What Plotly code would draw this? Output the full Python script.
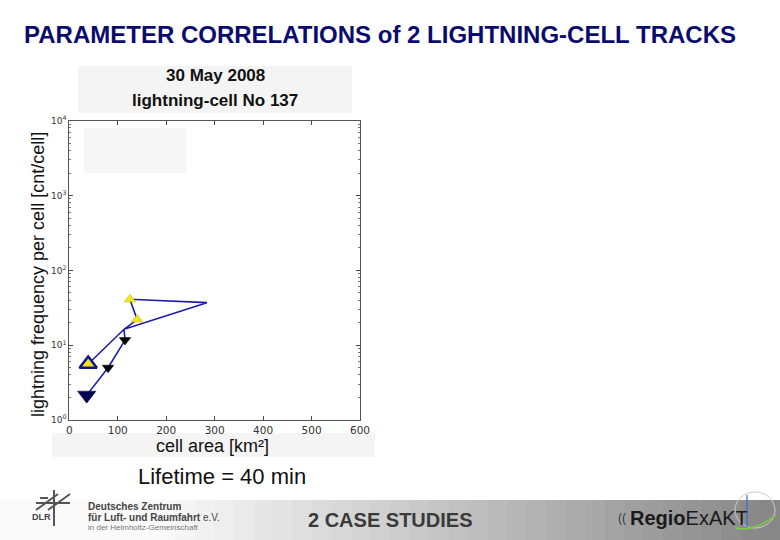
import plotly.graph_objects as go

# ---- data ----
cell_area_km2 = [39, 113, 140, 125, 284, 113, 115, 80, 36]
lightning_freq = [5.6, 16.3, 22.0, 41.0, 37.0, 16.3, 11.7, 5.0, 2.15]
marker_symbols = ["triangle-up", "circle", "triangle-up", "triangle-up", "circle",
                  "circle", "triangle-down", "triangle-down", "triangle-down"]
marker_sizes = [15, 0, 10, 10, 0, 0, 10, 10, 16]
marker_colors = ["#f2e31c", "#1c1ca8", "#f2e31c", "#f2e31c", "#1c1ca8",
                 "#1c1ca8", "#000000", "#000000", "#000050"]
marker_edge_colors = ["#12128c", "#1c1ca8", "#c8b800", "#c8b800", "#1c1ca8",
                      "#1c1ca8", "#000000", "#000000", "#000050"]
marker_edge_widths = [2.5, 0, 0.5, 0.5, 0, 0, 0.5, 0.5, 0.5]

x_tick_vals = [0, 100, 200, 300, 400, 500, 600]
y_tick_vals = [1, 10, 100, 1000, 10000]
y_tick_text = ["10<sup>0</sup>", "10<sup>1</sup>", "10<sup>2</sup>", "10<sup>3</sup>", "10<sup>4</sup>"]

W, H = 780, 540
def px(x):
    return x / W
def py(y):
    return 1 - y / H

fig = go.Figure()
fig.add_trace(go.Scatter(
    x=cell_area_km2, y=lightning_freq, mode="lines+markers",
    line=dict(color="#1c1ca8", width=1.6),
    marker=dict(symbol=marker_symbols, size=marker_sizes, color=marker_colors, opacity=1,
                line=dict(color=marker_edge_colors, width=marker_edge_widths)),
    showlegend=False, hoverinfo="skip", cliponaxis=False,
))

shapes = []
# footer gradient band
n = 40
for i in range(n):
    x0 = i * W / n
    x1 = min(W, (i + 1) * W / n + 1.5)
    t = i / (n - 1)
    t2 = max(0.0, (t - 0.2) / 0.8)
    v = int(250 - 115 * t2)
    shapes.append(dict(type="rect", xref="paper", yref="paper",
                       x0=px(x0), x1=px(x1), y0=py(540), y1=py(500),
                       fillcolor=f"rgb({v},{v},{v})", line=dict(width=0), layer="below"))
# subtitle box
shapes.append(dict(type="rect", xref="paper", yref="paper", x0=px(78), x1=px(352),
                   y0=py(113), y1=py(66), fillcolor="#f4f4f4", line=dict(width=0), layer="below"))
# x title box
shapes.append(dict(type="rect", xref="paper", yref="paper", x0=px(52), x1=px(375),
                   y0=py(457), y1=py(433), fillcolor="#f4f4f4", line=dict(width=0), layer="below"))
# legend placeholder
shapes.append(dict(type="rect", xref="paper", yref="paper", x0=px(84), x1=px(186),
                   y0=py(173), y1=py(128), fillcolor="#f6f6f6", line=dict(width=0), layer="above"))
# DLR emblem (simple)
for (xa, ya, xb, yb) in [(36, 510, 58, 494), (48, 510, 70, 494), (36, 503, 70, 503),
                         (54, 490, 54, 526), (40, 498, 48, 498)]:
    shapes.append(dict(type="line", xref="paper", yref="paper",
                       x0=px(xa), y0=py(ya), x1=px(xb), y1=py(yb),
                       line=dict(color="#555555", width=2)))
# Regio logo globe
shapes.append(dict(type="circle", xref="paper", yref="paper", x0=px(735), x1=px(775),
                   y0=py(528), y1=py(492), line=dict(color="#cccccc", width=1)))
shapes.append(dict(type="line", xref="paper", yref="paper", x0=px(747), x1=px(747),
                   y0=py(527), y1=py(495), line=dict(color="#3a6fd0", width=1.2)))
shapes.append(dict(type="path", xref="paper", yref="paper",
                   path=f"M {px(735)},{py(528)} Q {px(755)},{py(532)} {px(776)},{py(515)}",
                   line=dict(color="#7ccf3a", width=1.5)))

annotations = [
    dict(text="<b>PARAMETER CORRELATIONS of 2 LIGHTNING-CELL TRACKS</b>", x=px(380), y=py(35),
         xref="paper", yref="paper", showarrow=False, xanchor="center", yanchor="middle",
         font=dict(family="Liberation Sans Narrow, Liberation Sans, Arial", size=24, color="#0b0b6e")),
    dict(text="<b>30 May 2008</b>", x=px(215), y=py(76), xref="paper", yref="paper", showarrow=False,
         xanchor="center", yanchor="middle",
         font=dict(family="Liberation Sans, Arial", size=17, color="#111111")),
    dict(text="<b>lightning-cell No 137</b>", x=px(215), y=py(101), xref="paper", yref="paper",
         showarrow=False, xanchor="center", yanchor="middle",
         font=dict(family="Liberation Sans, Arial", size=17, color="#111111")),
    dict(text="lightning frequency per cell [cnt/cell]", x=px(38), y=py(275), xref="paper",
         yref="paper", showarrow=False, textangle=-90, xanchor="center", yanchor="middle",
         font=dict(family="Liberation Sans, Arial", size=18, color="#111111")),
    dict(text="cell area [km²]", x=px(213), y=py(446), xref="paper", yref="paper", showarrow=False,
         xanchor="center", yanchor="middle",
         font=dict(family="Liberation Sans, Arial", size=18, color="#111111")),
    dict(text="Lifetime = 40 min", x=px(222), y=py(476), xref="paper", yref="paper", showarrow=False,
         xanchor="center", yanchor="middle",
         font=dict(family="Liberation Sans, Arial", size=22, color="#111111")),
    dict(text="<b>2 CASE STUDIES</b>", x=px(390), y=py(520), xref="paper", yref="paper",
         showarrow=False, xanchor="center", yanchor="middle",
         font=dict(family="Liberation Sans Narrow, Liberation Sans, Arial", size=20, color="#3a3a3a")),
    dict(text="<b>DLR</b>", x=px(30), y=py(517), xref="paper", yref="paper", showarrow=False,
         xanchor="left", yanchor="middle",
         font=dict(family="Liberation Sans, Arial", size=9, color="#444444")),
    dict(text="<b>Deutsches Zentrum</b>", x=px(86), y=py(506), xref="paper", yref="paper",
         showarrow=False, xanchor="left", yanchor="middle",
         font=dict(family="Liberation Sans Narrow, Liberation Sans, Arial", size=10, color="#444444")),
    dict(text="<b>für Luft- und Raumfahrt</b> e.V.", x=px(86), y=py(517), xref="paper", yref="paper",
         showarrow=False, xanchor="left", yanchor="middle",
         font=dict(family="Liberation Sans Narrow, Liberation Sans, Arial", size=10, color="#444444")),
    dict(text="in der Helmholtz-Gemeinschaft", x=px(86), y=py(527), xref="paper", yref="paper",
         showarrow=False, xanchor="left", yanchor="middle",
         font=dict(family="Liberation Sans Narrow, Liberation Sans, Arial", size=8, color="#777777")),
    dict(text="<b>Regio</b>ExAKT", x=px(628), y=py(518), xref="paper", yref="paper",
         showarrow=False, xanchor="left", yanchor="middle",
         font=dict(family="Liberation Sans Narrow, Liberation Sans, Arial", size=20, color="#1a1a1a")),
    dict(text="((", x=px(616), y=py(518), xref="paper", yref="paper",
         showarrow=False, xanchor="left", yanchor="middle",
         font=dict(family="Liberation Sans, Arial", size=12, color="#333333")),
]

fig.update_layout(
    width=W, height=H, autosize=False,
    margin=dict(l=0, r=0, t=0, b=0),
    paper_bgcolor="white", plot_bgcolor="white",
    shapes=shapes, annotations=annotations,
    xaxis=dict(domain=[px(69.3), px(360)], range=[0, 600], tickvals=x_tick_vals,
               ticks="inside", ticklen=4, tickcolor="#444", showline=True, linecolor="#555",
               linewidth=1, mirror="ticks", showgrid=False, zeroline=False, automargin=False,
               ticklabelstandoff=0,
               tickfont=dict(family="DejaVu Sans", size=10.5, color="#333333")),
    yaxis=dict(domain=[py(420), py(120.7)], type="log", range=[0, 4], tickvals=y_tick_vals,
               ticktext=y_tick_text, ticks="inside", ticklen=4, tickcolor="#444",
               showline=True, linecolor="#555", linewidth=1, mirror="ticks", automargin=False,
               showgrid=False, zeroline=False, ticklabelstandoff=0,
               minor=dict(dtick="D1", ticks="inside", ticklen=2, tickcolor="#777", showgrid=False),
               tickfont=dict(family="DejaVu Sans", size=9, color="#333333")),
)

fig.write_html(
    "out.html",
    config={"displayModeBar": False, "responsive": False},
    post_script=("document.documentElement.style.margin='0';"
                 "document.body.style.margin='0';"
                 "document.documentElement.style.overflow='hidden';"
                 "document.body.style.overflow='hidden';"),
)
